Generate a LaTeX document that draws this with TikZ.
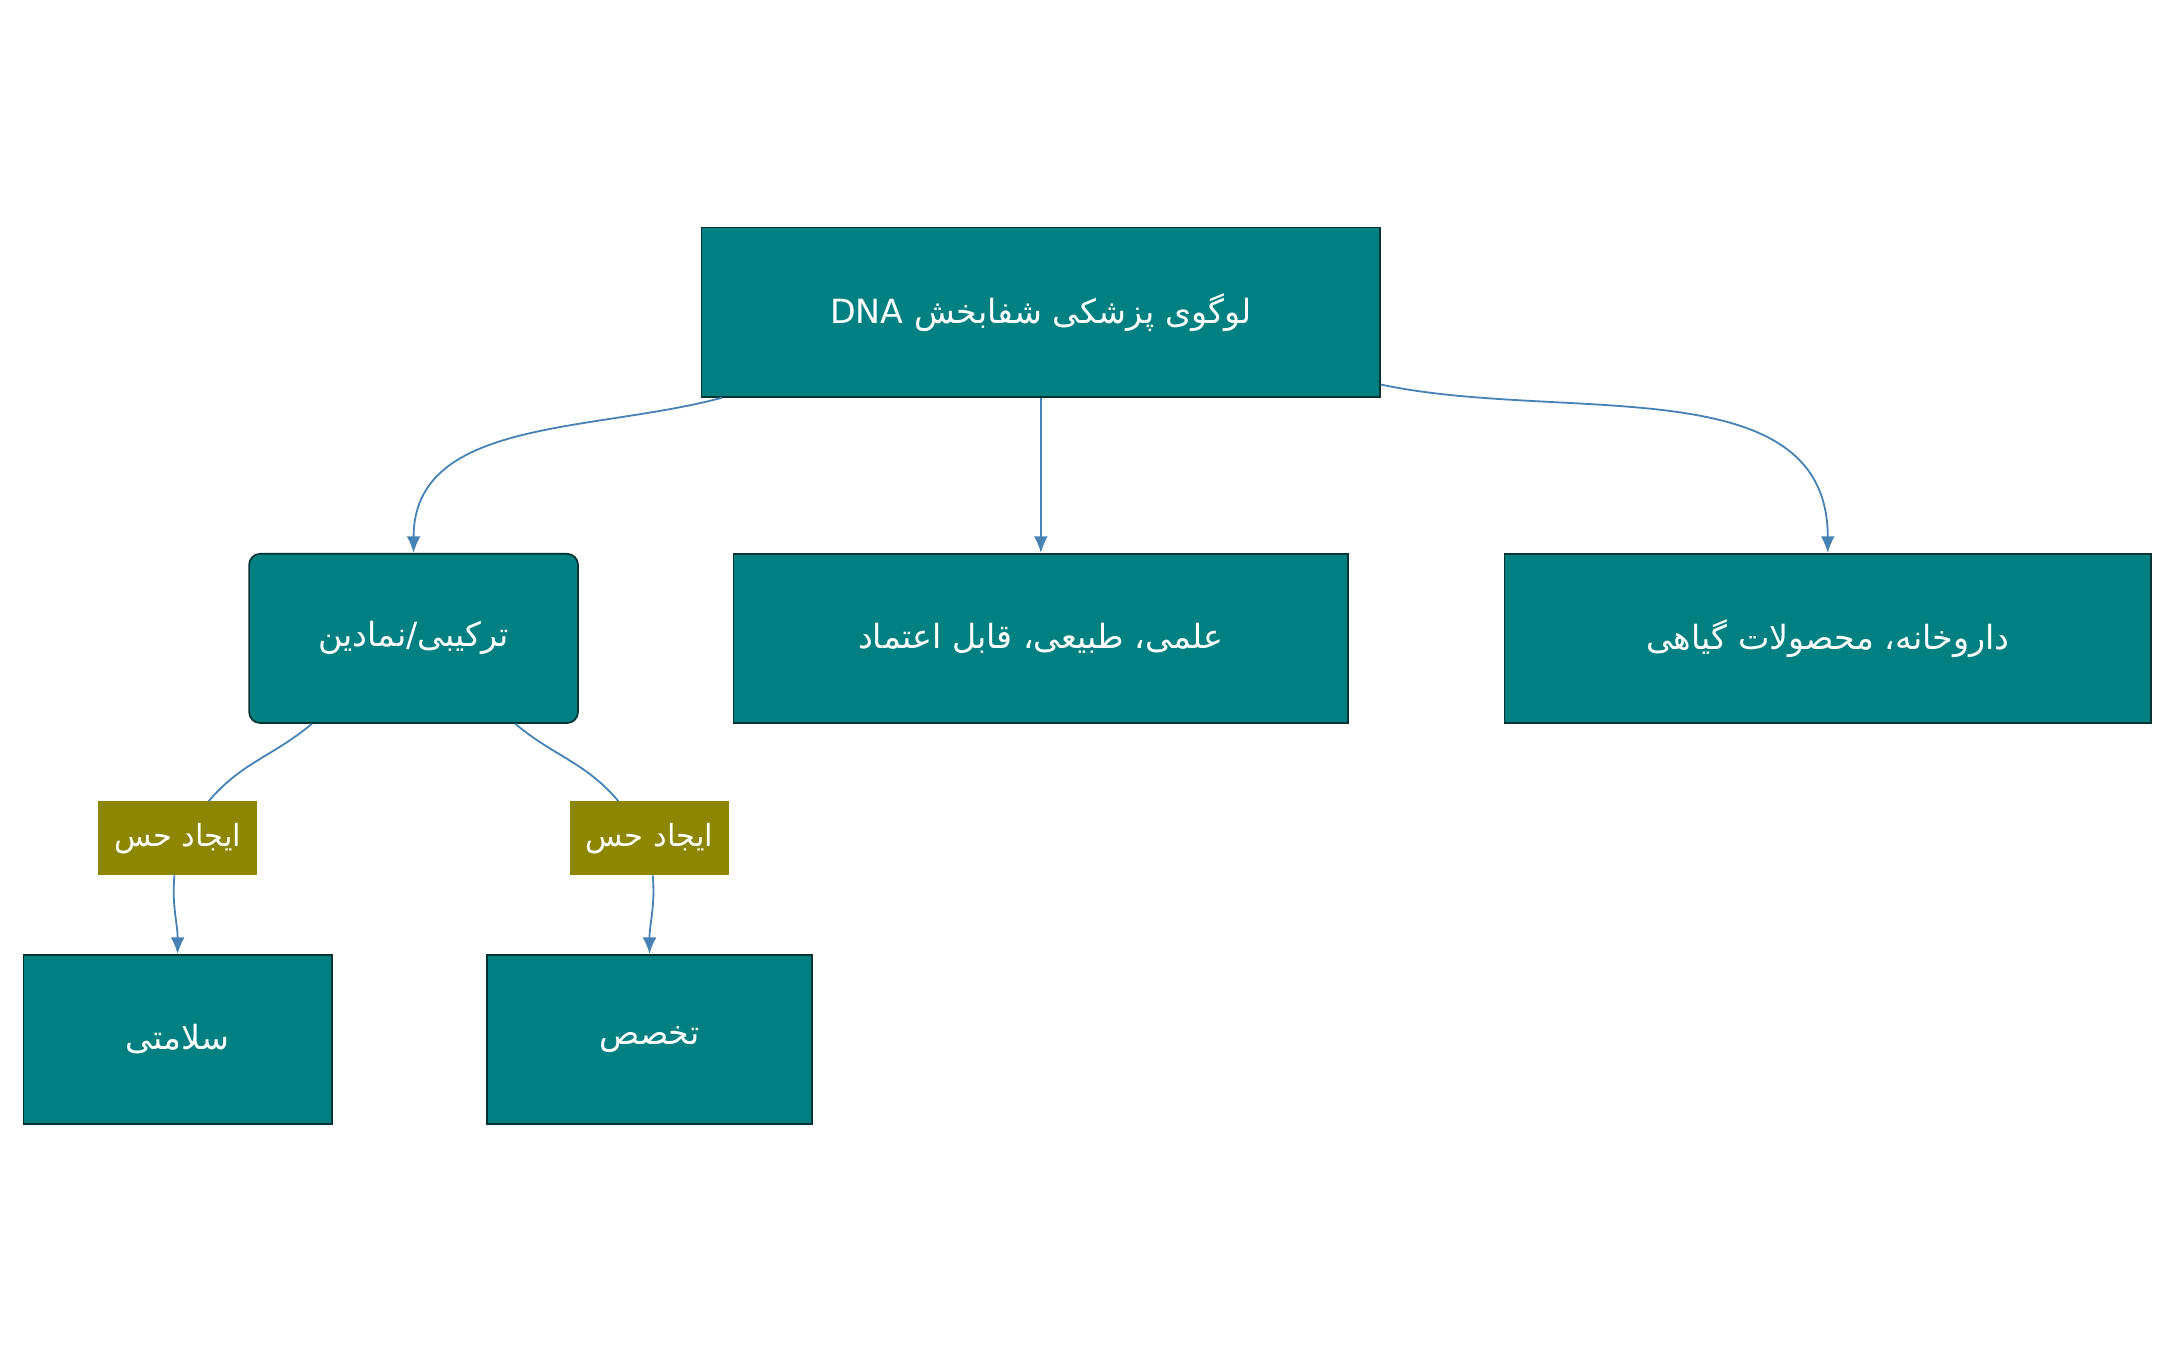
\documentclass[tikz,border=0pt]{standalone}
\usepackage{fontspec}
\newfontfamily\arabicfont[Script=Arabic]{DejaVu Sans}
\TeXXeTstate=1
\begin{document}
\begin{tikzpicture}[x=1pt,y=-1pt,
  box/.style={draw=black!60!teal,line width=1.2pt,fill=teal,text=white,font=\arabicfont\fontsize{24}{28}\selectfont,inner sep=0pt,minimum height=122pt},
  lab/.style={fill=olive,text=white,font=\arabicfont\fontsize{22}{26}\selectfont,inner sep=0pt,minimum height=53pt,minimum width=115pt},
  edge/.style={draw={rgb,255:red,70;green,130;blue,180},line width=1.3pt,-{Latex[length=12pt,width=10pt]}},
  ln/.style={draw={rgb,255:red,70;green,130;blue,180},line width=1.3pt}]
\usetikzlibrary{arrows.meta}
\useasboundingbox (0,0) rectangle (1560,970);
\node[box,minimum width=489pt] (top) at (750,225) {\beginR لوگوی پزشکی شفابخش \beginL DNA\endL\endR};
\node[box,minimum width=237pt,rounded corners=8pt] (left) at (298,460) {\beginR ترکیبی/نمادین\endR};
\node[box,minimum width=443pt] (mid) at (750,460) {\beginR علمی، طبیعی، قابل اعتماد\endR};
\node[box,minimum width=466pt] (right) at (1317,460) {\beginR داروخانه، محصولات گیاهی\endR};
\node[lab] (l1) at (128,604) {\beginR ایجاد حس\endR};
\node[lab] (l2) at (468,604) {\beginR ایجاد حس\endR};
\node[box,minimum width=222pt] (b1) at (128,749) {\beginR سلامتی\endR};
\node[box,minimum width=234pt] (b2) at (468,749) {\beginR تخصص\endR};
\draw[edge] (top) to[out=195,in=90] (left);
\draw[edge] (top) -- (mid);
\draw[edge] (top) to[out=-12,in=90] (right);
\draw[ln] (left) to[out=-140,in=50] (l1);
\draw[ln] (left) to[out=-40,in=130] (l2);
\draw[edge] (l1) to[out=-95,in=90] (b1);
\draw[edge] (l2) to[out=-85,in=90] (b2);
\end{tikzpicture}
\end{document}
